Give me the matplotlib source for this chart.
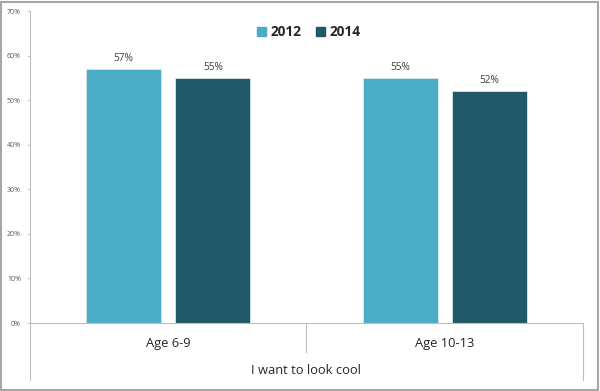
import matplotlib
matplotlib.use("Agg")
import matplotlib.pyplot as plt
from matplotlib.patches import Rectangle
from matplotlib.lines import Line2D
import numpy as np

categories = ["Age 6-9", "Age 10-13"]
group_label = "I want to look cool"
series_names = ["2012", "2014"]
values_2012 = [57, 55]
values_2014 = [55, 52]
colors = ["#4BACC6", "#215968"]

plt.rcParams['font.family'] = ['Open Sans', 'DejaVu Sans']

fig = plt.figure(figsize=(6.0, 3.91), dpi=100)
W, H = 600, 391
ax = fig.add_axes([30/W, 1 - 323/H, (583-30)/W, (323-11)/H])

x = np.arange(len(categories))
bw = 0.271
off = 0.161
for vals, c, sgn in [(values_2012, colors[0], -1), (values_2014, colors[1], 1)]:
    ax.bar(x + sgn*off, vals, width=bw, color=c, edgecolor="#dce9ee", linewidth=0.6, zorder=2)
    for xi, v in zip(x + sgn*off, vals):
        ax.text(xi, v + 1.2, f"{v}%", ha="center", va="bottom", fontsize=7.3, color="#404040")

ax.set_xlim(-0.5, len(categories) - 0.5)
ax.set_ylim(0, 70)
ax.set_yticks(range(0, 71, 10))
ax.set_yticklabels([f"{t}%" for t in range(0, 71, 10)], fontsize=5, color="#595959")
ax.tick_params(axis='y', length=2.5, width=0.6, color="#bfbfbf", pad=4)
ax.set_xticks([])
for s in ["top", "right"]:
    ax.spines[s].set_visible(False)
ax.spines["left"].set_color("#bfbfbf")
ax.spines["left"].set_linewidth(0.8)
ax.spines["bottom"].set_color("#bfbfbf")
ax.spines["bottom"].set_linewidth(0.8)

# category axis (multi-level)
trans = fig.transFigure
def fy(py):
    return 1 - py/H
def fx(px):
    return px/W
for px, y0, y1 in [(30, 323, 380), (583, 323, 380), (306, 323, 352)]:
    fig.add_artist(Line2D([fx(px), fx(px)], [fy(y0), fy(y1)], color="#bfbfbf", lw=0.8, transform=trans))
for xi, cat in zip(x, categories):
    xd = ax.transData.transform((xi, 0))[0]
    fig.text(xd/W, fy(343), cat, ha="center", va="center", fontsize=9.3, color="#262626")
fig.text(fx(306), fy(371), group_label, ha="center", va="center", fontsize=9.3, color="#262626")

# legend
handles = [Rectangle((0, 0), 1, 1, color=c) for c in colors]
leg = fig.legend(handles, series_names, loc="center", bbox_to_anchor=(fx(309), fy(32)), ncol=2,
                 frameon=False, fontsize=9.8, handlelength=0.65, handleheight=0.65, handletextpad=0.35,
                 columnspacing=1.1)
for t in leg.get_texts():
    t.set_fontweight("bold")
    t.set_color("#262626")

# border
fig.add_artist(Rectangle((0.002, 0.003), 0.995, 0.993, fill=False, edgecolor="#a6a6a6", lw=1.5, transform=trans))

fig.savefig("out.png", dpi=100)
